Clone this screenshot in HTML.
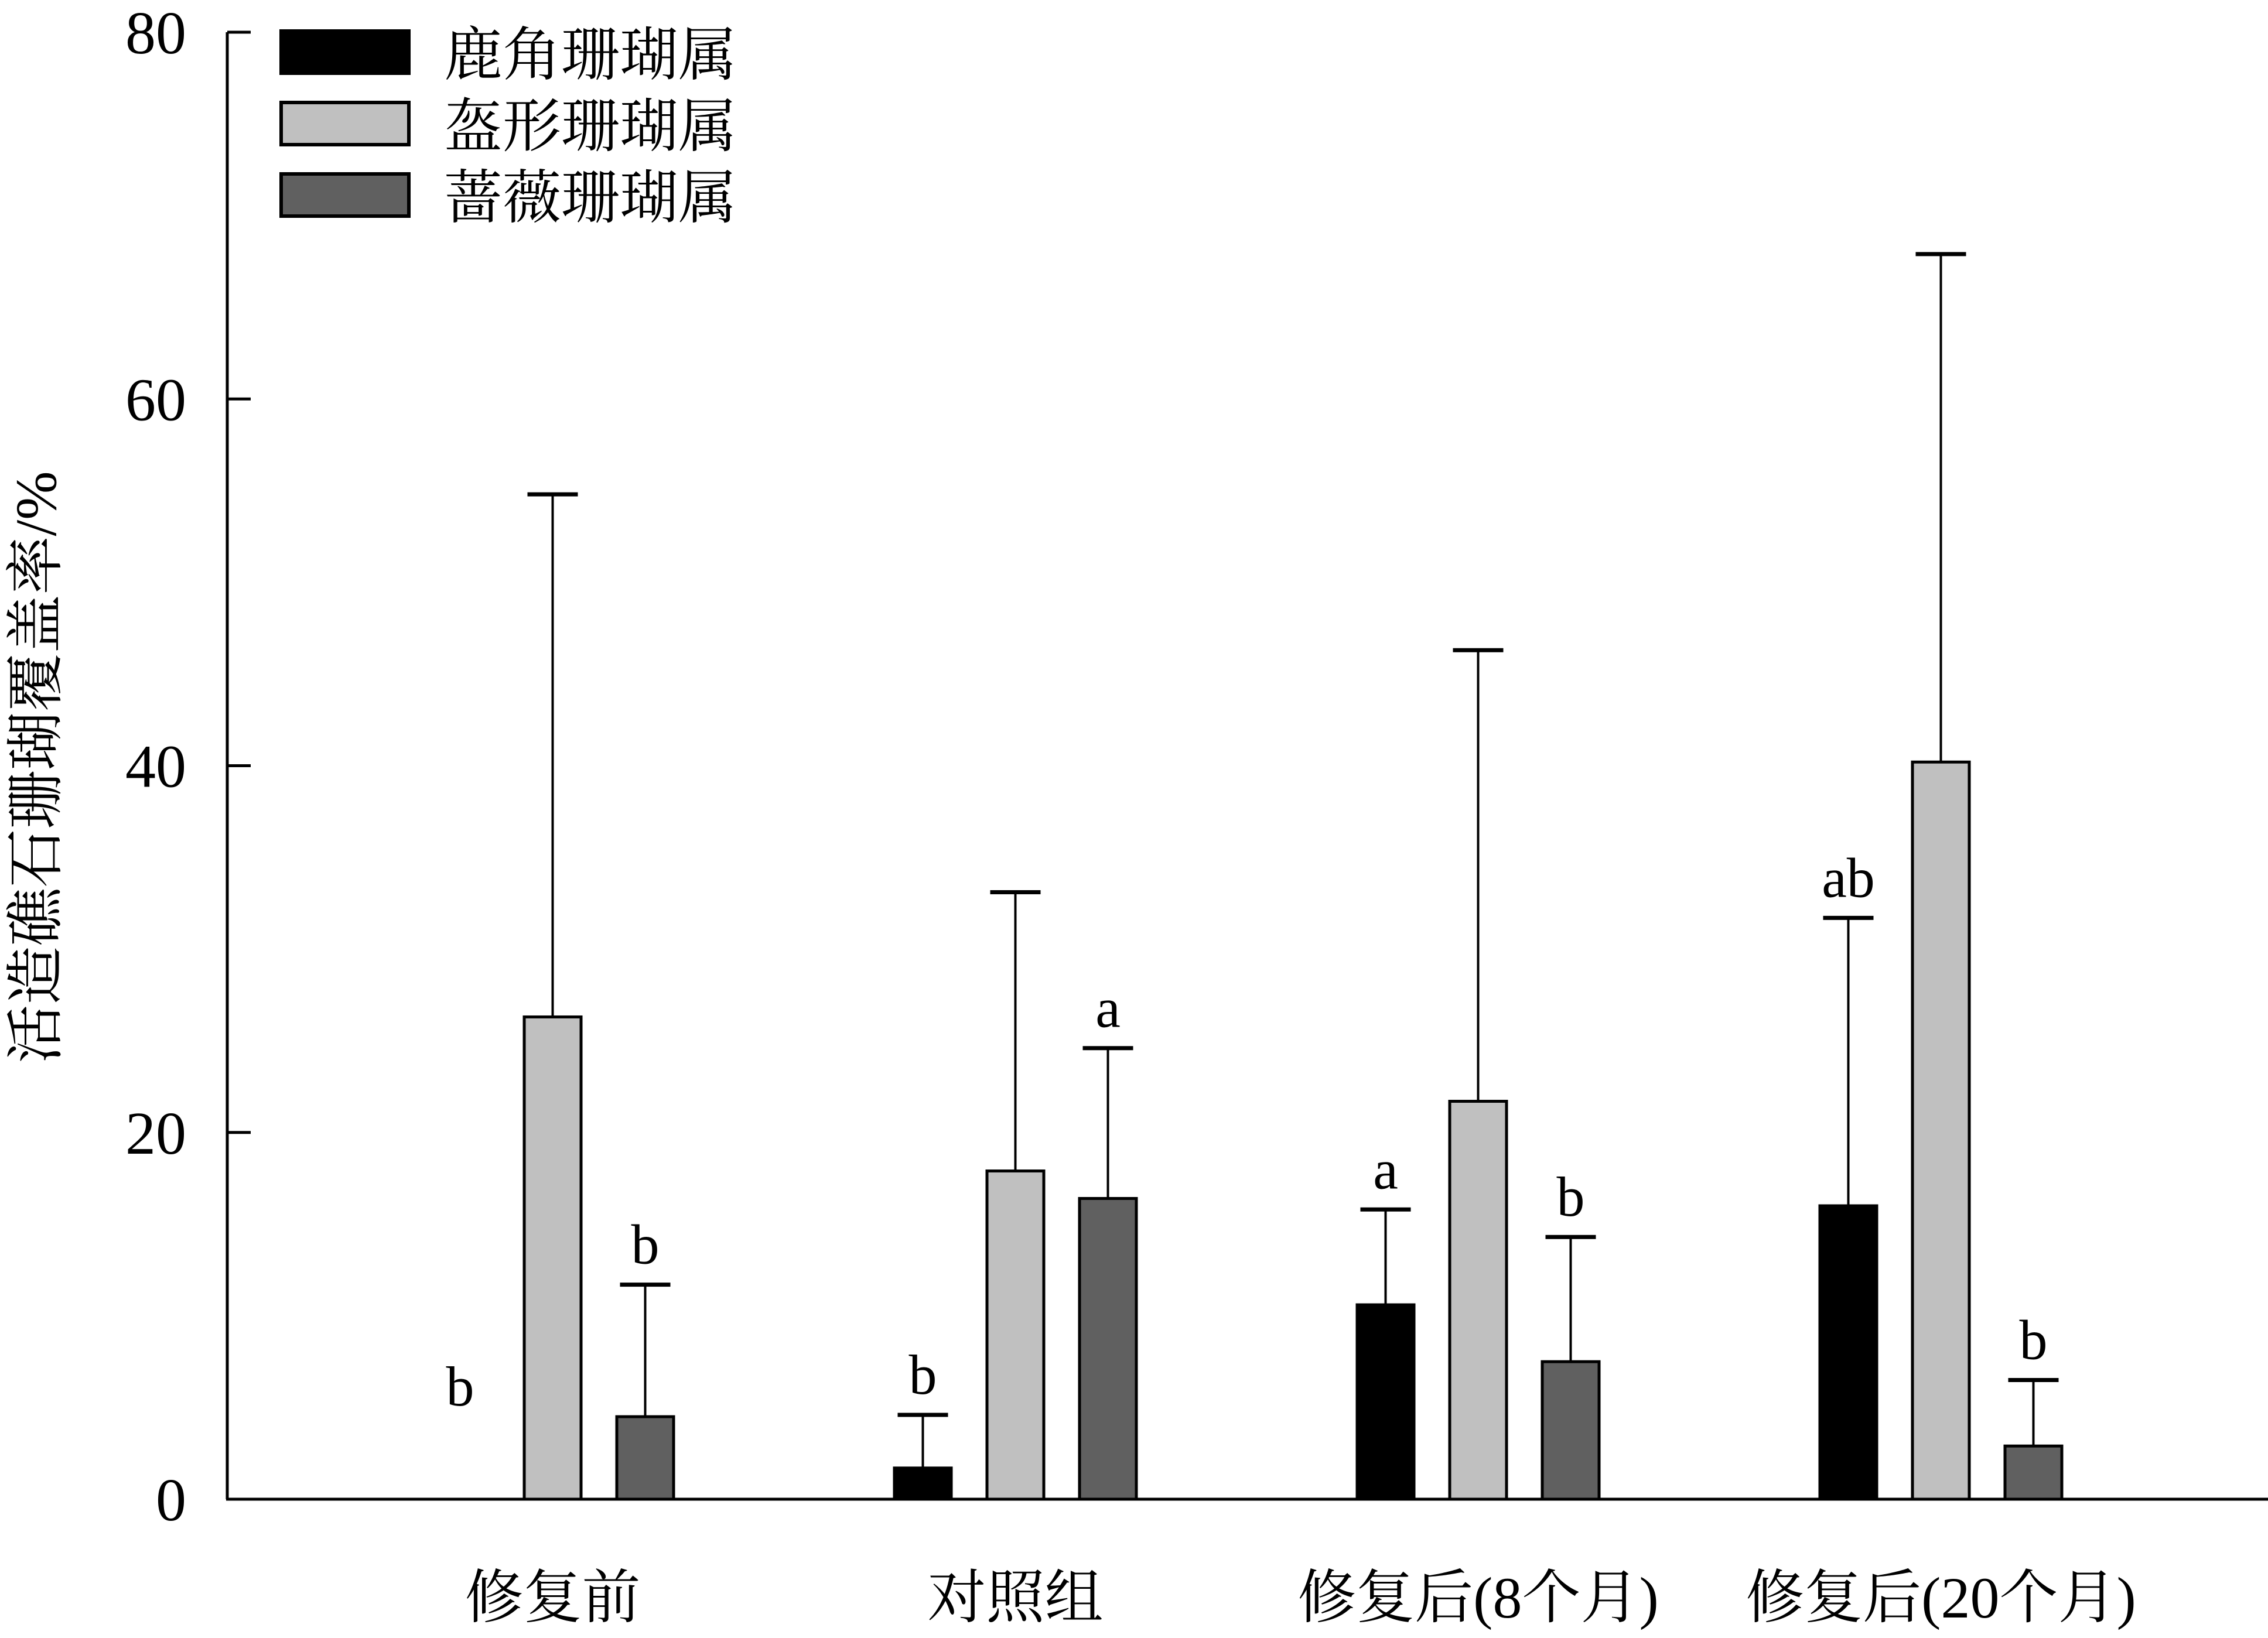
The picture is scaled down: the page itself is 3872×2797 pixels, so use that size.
<!DOCTYPE html>
<html><head><meta charset="utf-8"><style>
html,body{margin:0;padding:0;background:#fff;}
svg text{font-family:"Liberation Serif","Noto Serif CJK SC",serif;fill:#000;}
</style></head><body>
<svg id="chart" width="3872" height="2792" viewBox="0 0 3872 2792" xmlns="http://www.w3.org/2000/svg">
<g id="axes"></g>
<g id="bars"></g>
<g id="legend"></g>
</svg>
<script>
const categories = ["修复前", "对照组", "修复后(8个月)", "修复后(20个月)"];
const seriesNames = ["鹿角珊瑚属", "盔形珊瑚属", "蔷薇珊瑚属"];
const seriesColors = ["#000000", "#c0c0c0", "#606060"];
const acroporaMean = [0, 1.7, 10.6, 16.0];
const acroporaErr = [0, 2.9, 5.2, 15.7];
const galaxeaMean = [26.3, 17.9, 21.7, 40.2];
const galaxeaErr = [28.5, 15.2, 24.6, 27.7];
const montiporaMean = [4.5, 16.4, 7.5, 2.9];
const montiporaErr = [7.2, 8.2, 6.8, 3.6];
const acroporaLetters = ["b", "b", "a", "ab"];
const galaxeaLetters = ["", "", "", ""];
const montiporaLetters = ["b", "a", "b", "b"];
const yTicks = [0, 20, 40, 60, 80];

const NS = "http://www.w3.org/2000/svg";
const X0 = 388, X1 = 3872, Y0 = 2560, Y80 = 55;
function yScale(v){ return Y0 - (Y0 - Y80) * v / 80; }
const groupStart = 737, groupStep = 790, barStep = 158, barW = 97;
function xBar(g, s){ return groupStart + g * groupStep + s * barStep; }
function mk(tag, attrs, parent){ const e = document.createElementNS(NS, tag); for (const k in attrs) e.setAttribute(k, attrs[k]); parent.appendChild(e); return e; }

const axes = document.getElementById("axes");
let yl = mk("line", {x1:X0, y1:Y80, x2:X0, y2:Y0, stroke:"#000", "stroke-width":5}, axes);


let xl = mk("line", {x1:X0-2, y1:Y0, x2:X1, y2:Y0, stroke:"#000", "stroke-width":5}, axes);


yTicks.forEach(t => {
  const y = yScale(t);
  const tk = mk("line", {x1:X0, y1:y, x2:X0+40, y2:y, stroke:"#000", "stroke-width":5}, axes);
  
  
  const tx = mk("text", {x:318, y:y+36, "text-anchor":"end", "font-size":104}, axes);
  tx.textContent = String(t);
  
  
});
const yt = mk("text", {x:0, y:0, "text-anchor":"middle", "font-size":100, transform:"translate(95,1310) rotate(-90)"}, axes);
yt.textContent = "活造礁石珊瑚覆盖率/%";


categories.forEach((c, g) => {
  const t = mk("text", {x:xBar(g,1)+barW/2, y:2762, "text-anchor":"middle", "font-size":100}, axes);
  t.textContent = c;
  
  
});

const means = [acroporaMean, galaxeaMean, montiporaMean];
const errs = [acroporaErr, galaxeaErr, montiporaErr];
const letters = [acroporaLetters, galaxeaLetters, montiporaLetters];
const bars = document.getElementById("bars");
categories.forEach((c, g) => {
  for (let s = 0; s < 3; s++) {
    const m = means[s][g], e = errs[s][g], x = xBar(g, s);
    const cx = x + barW / 2;
    if (m > 0) {
      const top = m + e;
      const el = mk("line", {x1:cx, y1:yScale(m), x2:cx, y2:yScale(top), stroke:"#000", "stroke-width":4}, bars);
      
      
      const cap = mk("line", {x1:cx-43, y1:yScale(top), x2:cx+43, y2:yScale(top), stroke:"#000", "stroke-width":7}, bars);
      
      
      const r = mk("rect", {x:x, y:yScale(m), width:barW, height:Y0-yScale(m), fill:seriesColors[s], stroke:"#000", "stroke-width":5}, bars);
      
      
    }
    const L = letters[s][g];
    if (L) {
      const top = m + e;
      const ly = top > 0 ? yScale(top) - 36 : yScale(0) - 160;
      const lt = mk("text", {x:cx, y:ly, "text-anchor":"middle", "font-size":96}, bars);
      lt.textContent = L;
      
      
    }
  }
});

const legend = document.getElementById("legend");
seriesNames.forEach((n, i) => {
  const y = 50 + i * 122;
  const r = mk("rect", {x:480, y:y+3, width:218, height:72, fill:seriesColors[i], stroke:"#000", "stroke-width":6}, legend);
  
  
  const t = mk("text", {x:758, y:y+78, "font-size":100}, legend);
  t.textContent = n;
  
  
});
</script>
</body></html>
